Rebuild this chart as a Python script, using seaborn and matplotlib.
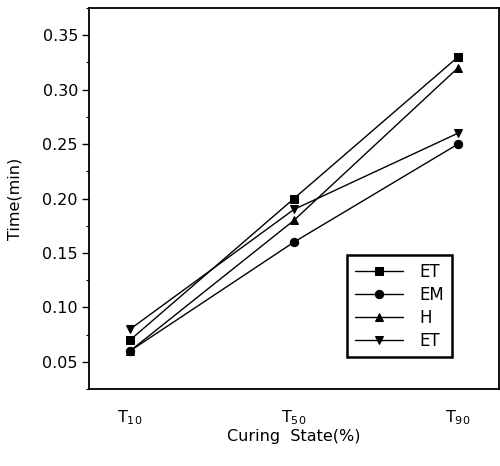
import matplotlib
matplotlib.use("Agg")
import matplotlib.pyplot as plt
import seaborn as sns
import numpy as np
from matplotlib.ticker import MultipleLocator

categories = ["T$_{10}$", "T$_{50}$", "T$_{90}$"]
series_names = ["ET", "EM", "H", "ET"]
et_sq = [0.07, 0.20, 0.33]
em = [0.06, 0.16, 0.25]
h = [0.06, 0.18, 0.32]
et_tri = [0.08, 0.19, 0.26]
series_values = [et_sq, em, h, et_tri]
markers = ["s", "o", "^", "v"]

sns.set_style("ticks")
plt.rcParams['font.family'] = ['DejaVu Sans']
plt.rcParams['mathtext.default'] = 'regular'
plt.rcParams['text.color'] = 'black'
plt.rcParams['axes.labelcolor'] = 'black'
plt.rcParams['xtick.color'] = 'black'
plt.rcParams['ytick.color'] = 'black'

fig = plt.figure(figsize=(5.0, 4.66), dpi=100)
ax = fig.add_axes([0.178, 0.165, 0.82, 0.818])

x = np.arange(len(categories))
for name, vals, m in zip(series_names, series_values, markers):
    sns.lineplot(x=x, y=vals, ax=ax, color="black", marker=m, markersize=6,
                 markeredgecolor="black", linewidth=1.0, label=name)

ax.set_xlim(-0.25, 2.25)
ax.set_ylim(0.025, 0.375)
ax.set_xticks(x)
ax.set_xticklabels(categories, fontsize=11.5)
ax.tick_params(axis='x', length=0, pad=14)
ax.yaxis.set_major_locator(MultipleLocator(0.05))
ax.yaxis.set_minor_locator(MultipleLocator(0.025))
ax.set_yticks(np.arange(0.05, 0.351, 0.05))
ax.set_yticklabels(["%.2f" % v for v in np.arange(0.05, 0.351, 0.05)], fontsize=11.5)
ax.tick_params(axis='y', which='major', direction='out', length=5, width=1, color='black', pad=3)
ax.tick_params(axis='y', which='minor', direction='out', length=2.5, width=0.8, color='black')

for s in ax.spines.values():
    s.set_color("black")
    s.set_linewidth(1.3)

ax.set_ylabel("Time(min)", fontsize=11.5, labelpad=14)
ax.set_xlabel("Curing  State(%)", fontsize=11.5, labelpad=1)

leg = ax.legend(loc="lower left", bbox_to_anchor=(0.63, 0.084), borderaxespad=0,
                frameon=True, fancybox=False, edgecolor="black", fontsize=12,
                handlelength=2.9, labelspacing=0.3, borderpad=0.45, handletextpad=1.0)
leg.get_frame().set_linewidth(1.8)
leg.get_frame().set_alpha(1.0)

fig.savefig("out.png", dpi=100)
